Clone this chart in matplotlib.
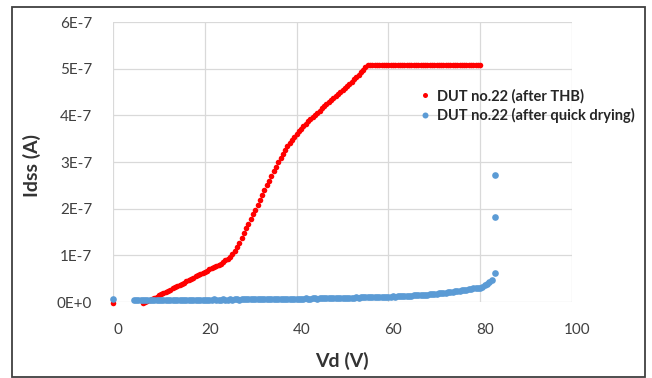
import matplotlib
matplotlib.use("Agg")
import matplotlib.pyplot as plt
import matplotlib.transforms as mtransforms
from matplotlib.patches import Rectangle

# --- data (current in units of 1E-7 A) ---
thb_vd = [0.0,
          6.5, 7.0, 7.5, 8.0, 8.5, 9.0, 9.5, 10.0,
          10.5, 11.0, 11.5, 12.0, 12.5, 13.0, 13.5, 14.0, 14.5, 15.0,
          15.5, 16.0, 16.5, 17.0, 17.5, 18.0, 18.5, 19.0, 19.5, 20.0,
          20.5, 21.0, 21.5, 22.0, 22.5, 23.0, 23.5, 24.0, 24.5, 25.0,
          25.5, 26.0, 26.5, 27.0, 27.5, 28.0, 28.5, 29.0, 29.5, 30.0,
          30.5, 31.0, 31.5, 32.0, 32.5, 33.0, 33.5, 34.0, 34.5, 35.0,
          35.5, 36.0, 36.5, 37.0, 37.5, 38.0, 38.5, 39.0, 39.5, 40.0,
          40.5, 41.0, 41.5, 42.0, 42.5, 43.0, 43.5, 44.0, 44.5, 45.0,
          45.5, 46.0, 46.5, 47.0, 47.5, 48.0, 48.5, 49.0, 49.5, 50.0,
          50.5, 51.0, 51.5, 52.0, 52.5, 53.0, 53.5, 54.0, 54.5, 55.0,
          55.5, 56.0, 56.5, 57.0, 57.5, 58.0, 58.5, 59.0, 59.5, 60.0,
          60.5, 61.0, 61.5, 62.0, 62.5, 63.0, 63.5, 64.0, 64.5, 65.0,
          65.5, 66.0, 66.5, 67.0, 67.5, 68.0, 68.5, 69.0, 69.5, 70.0,
          70.5, 71.0, 71.5, 72.0, 72.5, 73.0, 73.5, 74.0, 74.5, 75.0,
          75.5, 76.0, 76.5, 77.0, 77.5, 78.0, 78.5, 79.0, 79.5, 80.0]
thb_ids = [-0.03,
           -0.02, 0.00, 0.02, 0.04, 0.065, 0.09, 0.115, 0.14,
           0.165, 0.19, 0.215, 0.24, 0.265, 0.29, 0.315, 0.34, 0.365, 0.39,
           0.415, 0.44, 0.465, 0.49, 0.52, 0.55, 0.575, 0.60, 0.625, 0.65,
           0.675, 0.70, 0.725, 0.75, 0.775, 0.80, 0.825, 0.85, 0.89, 0.93,
           0.97, 1.02, 1.09, 1.17, 1.27, 1.38, 1.48, 1.58, 1.68, 1.78,
           1.88, 1.98, 2.08, 2.18, 2.29, 2.39, 2.50, 2.60, 2.70, 2.80,
           2.90, 3.00, 3.09, 3.18, 3.26, 3.34, 3.41, 3.48, 3.54, 3.60,
           3.66, 3.71, 3.77, 3.82, 3.87, 3.92, 3.97, 4.01, 4.06, 4.10,
           4.15, 4.19, 4.24, 4.28, 4.33, 4.37, 4.41, 4.45, 4.50, 4.54,
           4.59, 4.63, 4.68, 4.72, 4.77, 4.82, 4.87, 4.93, 4.98, 5.04,
           5.07, 5.07, 5.07, 5.07, 5.07, 5.07, 5.07, 5.07, 5.07, 5.07,
           5.07, 5.07, 5.07, 5.07, 5.07, 5.07, 5.07, 5.07, 5.07, 5.07,
           5.07, 5.07, 5.07, 5.07, 5.07, 5.07, 5.07, 5.07, 5.07, 5.07,
           5.07, 5.07, 5.07, 5.07, 5.07, 5.07, 5.07, 5.07, 5.07, 5.07,
           5.07, 5.07, 5.07, 5.07, 5.07, 5.07, 5.07, 5.07, 5.07, 5.07]

dry_vd = [0.0,
          4.5, 5.0, 5.5, 6.0, 6.5, 7.0, 7.5, 8.0, 8.5, 9.0, 9.5, 10.0,
          10.5, 11.0, 11.5, 12.0, 12.5, 13.0, 13.5, 14.0, 14.5, 15.0,
          15.5, 16.0, 16.5, 17.0, 17.5, 18.0, 18.5, 19.0, 19.5, 20.0,
          20.5, 21.0, 21.5, 22.0, 22.5, 23.0, 23.5, 24.0, 24.5, 25.0,
          25.5, 26.0, 26.5, 27.0, 27.5, 28.0, 28.5, 29.0, 29.5, 30.0,
          30.5, 31.0, 31.5, 32.0, 32.5, 33.0, 33.5, 34.0, 34.5, 35.0,
          35.5, 36.0, 36.5, 37.0, 37.5, 38.0, 38.5, 39.0, 39.5, 40.0,
          40.5, 41.0, 41.5, 42.0, 42.5, 43.0, 43.5, 44.0, 44.5, 45.0,
          45.5, 46.0, 46.5, 47.0, 47.5, 48.0, 48.5, 49.0, 49.5, 50.0,
          50.5, 51.0, 51.5, 52.0, 52.5, 53.0, 53.5, 54.0, 54.5, 55.0,
          55.5, 56.0, 56.5, 57.0, 57.5, 58.0, 58.5, 59.0, 59.5, 60.0,
          60.5, 61.0, 61.5, 62.0, 62.5, 63.0, 63.5, 64.0, 64.5, 65.0,
          65.5, 66.0, 66.5, 67.0, 67.5, 68.0, 68.5, 69.0, 69.5, 70.0,
          70.5, 71.0, 71.5, 72.0, 72.5, 73.0, 73.5, 74.0, 74.5, 75.0,
          75.5, 76.0, 76.5, 77.0, 77.5, 78.0, 78.5, 79.0, 79.5, 80.0,
          80.5, 81.0, 81.5, 82.0, 82.5,
          83.2, 83.2, 83.2]
dry_ids = [0.07,
           0.05, 0.05, 0.04, 0.05, 0.05, 0.04, 0.05, 0.05, 0.05, 0.04, 0.05, 0.05,
           0.05, 0.04, 0.05, 0.05, 0.05, 0.04, 0.05, 0.05, 0.05, 0.05,
           0.04, 0.05, 0.05, 0.05, 0.05, 0.05, 0.04, 0.05, 0.05, 0.05,
           0.05, 0.05, 0.05, 0.06, 0.05, 0.05, 0.05, 0.06, 0.05, 0.05,
           0.06, 0.05, 0.06, 0.06, 0.05, 0.06, 0.06, 0.06, 0.06, 0.06,
           0.06, 0.06, 0.06, 0.06, 0.06, 0.07, 0.06, 0.06, 0.07, 0.06,
           0.07, 0.07, 0.06, 0.07, 0.07, 0.07, 0.07, 0.07, 0.07, 0.07,
           0.07, 0.07, 0.07, 0.08, 0.07, 0.07, 0.08, 0.08, 0.07, 0.08,
           0.08, 0.08, 0.08, 0.08, 0.08, 0.09, 0.08, 0.08, 0.09, 0.09,
           0.09, 0.09, 0.09, 0.09, 0.09, 0.10, 0.09, 0.10, 0.10, 0.10,
           0.10, 0.10, 0.10, 0.10, 0.11, 0.10, 0.11, 0.11, 0.11, 0.11,
           0.11, 0.12, 0.11, 0.12, 0.12, 0.12, 0.13, 0.12, 0.13, 0.13,
           0.14, 0.14, 0.14, 0.15, 0.15, 0.16, 0.16, 0.17, 0.17, 0.18,
           0.18, 0.19, 0.19, 0.20, 0.20, 0.21, 0.22, 0.22, 0.23, 0.23,
           0.24, 0.25, 0.25, 0.26, 0.27, 0.28, 0.29, 0.29, 0.30, 0.31,
           0.33, 0.36, 0.39, 0.43, 0.47,
           0.62, 1.83, 2.72]

x_ticks = [0, 20, 40, 60, 80, 100]
y_ticks = [0, 1, 2, 3, 4, 5, 6]
y_tick_labels = ["0E+0", "1E-7", "2E-7", "3E-7", "4E-7", "5E-7", "6E-7"]

plt.rcParams['font.family'] = ['Lato', 'DejaVu Sans']

fig = plt.figure(figsize=(6.52, 3.78), dpi=100)
ax = fig.add_axes([113 / 652, 1 - 302 / 378, 459 / 652, 280 / 378])

# outer chart frame
fig.patches.append(Rectangle((12 / 652, 1 / 378), 633 / 652, 370 / 378,
                             transform=fig.transFigure, fill=False,
                             edgecolor='#404040', linewidth=1.3))

ax.plot(thb_vd, [v * 1e-7 for v in thb_ids], 'o', color='#ff0000', markersize=4.0,
        markeredgewidth=0, clip_on=False, label='DUT no.22 (after THB)', zorder=3)
ax.plot(dry_vd, [v * 1e-7 for v in dry_ids], 'o', color='#5b9bd5', markersize=4.8,
        markeredgewidth=0, clip_on=False, label='DUT no.22 (after quick drying)', zorder=3)

ax.set_xlim(0, 100)
ax.set_ylim(0, 6e-7)
ax.set_xticks(x_ticks)
ax.set_yticks([v * 1e-7 for v in y_ticks])
ax.set_yticklabels(y_tick_labels)
ax.grid(True, color='#d9d9d9', linewidth=0.9)
ax.set_axisbelow(True)
for s in ax.spines.values():
    s.set_visible(False)
ax.tick_params(length=0, labelsize=11, labelcolor='#404040')
ax.tick_params(axis='x', pad=15)
ax.tick_params(axis='y', pad=15)

# excel puts the x labels a few pixels to the right of the gridlines
shift = mtransforms.ScaledTranslation(5 / 100, 0, fig.dpi_scale_trans)
for lbl in ax.get_xticklabels():
    lbl.set_transform(lbl.get_transform() + shift)

fig.text(342 / 652, 1 - 361 / 378, "Vd (V)", ha='center', va='center',
         fontsize=14, fontweight='bold', color='#333333')
fig.text(32 / 652, 1 - 166 / 378, "Idss (A)", ha='center', va='center', rotation=90,
         fontsize=14, fontweight='bold', color='#333333')

ax.legend(loc='center left', bbox_to_anchor=(421 / 652, 1 - 106 / 378),
          bbox_transform=fig.transFigure, frameon=False, borderpad=0,
          borderaxespad=0, handlelength=0.6, handletextpad=0.5, labelspacing=0.35,
          prop={'weight': 'bold', 'size': 10.5}, labelcolor='#262626',
          markerscale=0.9)

fig.savefig("out.png", dpi=100)
